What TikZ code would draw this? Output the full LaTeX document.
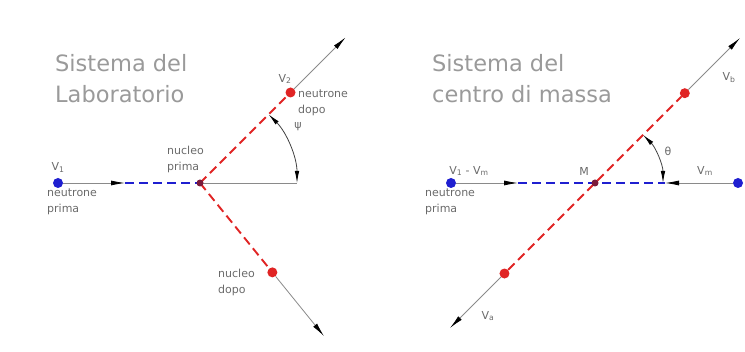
\documentclass[tikz,border=0pt]{standalone}
\usepackage{fontspec}
\setmainfont{DejaVu Sans}
\usepackage{xcolor}
\usepackage{tikz}
\usetikzlibrary{arrows.meta,positioning,calc}
\definecolor{urtblue}{HTML}{1F1FD0}
\definecolor{urtred}{HTML}{E02424}
\definecolor{urtdark}{HTML}{7A1A3A}
\definecolor{urtgray}{HTML}{8A8A8A}
\definecolor{urttext}{HTML}{6A6A6A}
\definecolor{urttitle}{HTML}{9A9A9A}
\tikzset{
    dot/.style={circle, fill=#1, inner sep=0pt, minimum size=10pt},
    hubdot/.style={circle, fill=urtdark, inner sep=0pt, minimum size=7pt},
    trail/.style={draw=urtgray, line width=0.8pt,
        -{Latex[length=14pt,width=5pt,color=black]}},
    track/.style={draw=#1, line width=1.9pt, dash pattern=on 9pt off 5pt},
    anglearc/.style={draw=black!75, line width=0.8pt,
        {Latex[length=12pt,width=4.5pt,color=black]}-{Latex[length=12pt,width=4.5pt,color=black]}},
    urtlabel/.style={font=\fontsize{11}{16}\selectfont, text=urttext,
        align=left, inner sep=0pt},
    urttitle/.style={font=\fontsize{22.5}{31}\selectfont, text=urttitle,
        align=left, inner sep=0pt, anchor=north west},
}

\begin{document}
\begin{tikzpicture}[x=1pt, y=1pt]

    \useasboundingbox (0,0) rectangle (745,352);

    % ── Sistema del laboratorio ────────────────────────────────────────────
    \node[urttitle] (labtitle) at (55,298) {Sistema del\\Laboratorio};

    \node[dot=urtblue] (v1) at (58,169) {};
    \coordinate (nucA) at (200,169);
    \coordinate (inA) at (125,169);
    \coordinate (refA) at (297,169);
    \node[dot=urtred] (v2) at ($(nucA)+(45:128)$) {};
    \node[dot=urtred] (nucdopo) at ($(nucA)+(-51:115)$) {};
    \coordinate (outA) at ($(nucA)+(45:206)$);
    \coordinate (outB) at ($(nucA)+(-51:197)$);

    \draw[trail] (v1) -- (inA);
    \draw[draw=urtgray, line width=0.8pt] (nucA) -- (refA);
    \draw[trail] (v2) -- (outA);
    \draw[trail] (nucdopo) -- (outB);
    \draw[track=urtblue] (inA) -- (nucA);
    \draw[track=urtred] (nucA) -- (v2);
    \draw[track=urtred] (nucA) -- (nucdopo);
    \draw[anglearc] ($(nucA)+(45:97)$) arc[start angle=45, end angle=0, radius=97];
    \node[hubdot] (nucprima) at (nucA) {};

    \node[urtlabel, above=5pt of v1] {V\textsubscript{1}};
    \node[urtlabel, anchor=north west] at (47,163) {neutrone\\prima};
    \node[urtlabel, anchor=north west] at (167,206) {nucleo\\prima};
    \node[urtlabel] at (285,273) {V\textsubscript{2}};
    \node[urtlabel, anchor=north west] at (298,262) {neutrone\\dopo};
    \node[urtlabel, anchor=north west] at (218,83) {nucleo\\dopo};
    \node[urtlabel] at (298,225) {ψ};

    % ── Sistema del centro di massa ────────────────────────────────────────
    \node[urttitle] (cmtitle) at (432,298) {Sistema del\\centro di massa};

    \node[dot=urtblue] (vL) at (451,169) {};
    \node[dot=urtblue] (vR) at (738,169) {};
    \coordinate (inB) at (518,169);
    \coordinate (inC) at (665,169);
    \coordinate (cmM) at (595,169);
    \node[dot=urtred] (vb) at ($(cmM)+(45:127)$) {};
    \node[dot=urtred] (va) at ($(cmM)+(225:128)$) {};
    \coordinate (outC) at ($(cmM)+(45:205)$);
    \coordinate (outD) at ($(cmM)+(225:205)$);

    \draw[trail] (vL) -- (inB);
    \draw[trail] (vR) -- (inC);
    \draw[trail] (vb) -- (outC);
    \draw[trail] (va) -- (outD);
    \draw[track=urtblue] (inB) -- (inC);
    \draw[track=urtred] (va) -- (vb);
    \draw[anglearc] ($(cmM)+(45:68)$) arc[start angle=45, end angle=0, radius=68];
    \node[hubdot] (mdot) at (cmM) {};

    \node[urtlabel] at (469,181) {V\textsubscript{1} - V\textsubscript{m}};
    \node[urtlabel] at (584,181) {M};
    \node[urtlabel] at (705,181) {V\textsubscript{m}};
    \node[urtlabel] at (668,201) {θ};
    \node[urtlabel] at (729,274) {V\textsubscript{b}};
    \node[urtlabel] at (488,36) {V\textsubscript{a}};
    \node[urtlabel, anchor=north west] at (425,163) {neutrone\\prima};

\end{tikzpicture}
\end{document}
